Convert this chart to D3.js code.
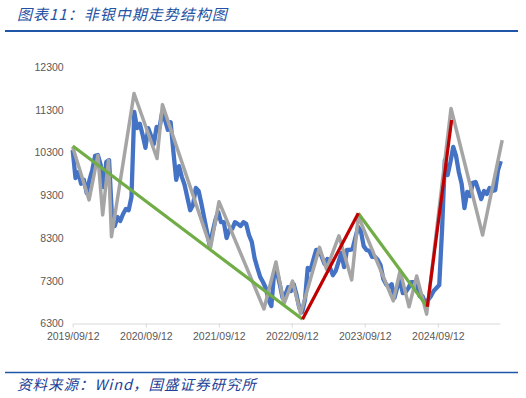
<!DOCTYPE html>
<html>
<head>
<meta charset="utf-8">
<script src="https://cdn.jsdelivr.net/npm/d3@7"></script>
<style>
  body { margin: 0; background: #fff; }
  svg { display: block; }
  .title, .source { font-family: "Noto Sans CJK SC", sans-serif; font-style: italic; }
  .axis text { font-family: "Liberation Sans", Arial, sans-serif; font-size: 10.5px; fill: #595959; }
</style>
</head>
<body>
<svg width="526" height="398"></svg>
<script>
// 非银指数, sampled every two weeks from 2019/09/12
const startDay = '2019-09-12'
const stepDays = 14
const indexValues = [
  10360, 9700, 9840, 9570, 9660, 9350, 9660, 9890, 10220, 10240,
  10010, 9490, 10080, 10120, 8840, 8580, 8790, 8700, 8860, 8980,
  8950, 9260, 11250, 10870, 10970, 10710, 10410, 10870, 10690, 10500,
  10900, 10870, 11250, 11060, 10830, 11010, 10310, 9660, 9980, 9730,
  9540, 9240, 8950, 9070, 9470, 9400, 9100, 8770, 8440, 8110,
  8440, 8720, 8910, 8670, 8670, 8300, 8490, 8510, 8670, 8630,
  8580, 8670, 8630, 8370, 8210, 7830, 7600, 7390, 7270, 7130,
  6850, 6710, 7500, 7500, 7220, 6900, 6970, 7150, 7060, 7220,
  6970, 6660, 6570, 6850, 7600, 7550, 7790, 8020, 8020, 7860,
  7690, 7810, 7600, 7430, 7530, 7740, 7950, 7620, 8020, 8020,
  8040, 8300, 8560, 8460, 8110, 8020, 8000, 7860, 7860, 7790,
  7670, 7340, 7220, 7150, 7220, 6900, 7150, 7290, 7010, 7040,
  7130, 7270, 7270, 7220, 6940, 6940, 6780, 6850, 6940, 7060,
  7130, 7200, 8490, 10120, 9770, 10080, 10430, 10220, 9840, 9570,
  9000, 9380, 9280, 9590, 9610, 9420, 9210, 9400, 9330, 9470,
  9400, 9420, 9890, 10100
]

// 走势结构 (swing highs / lows)
const swingDates = [
  '2019-09-12', '2019-12-03', '2020-01-16', '2020-02-09', '2020-03-09', '2020-03-24',
  '2020-07-15', '2020-11-07', '2020-12-04', '2021-08-02', '2021-09-13', '2022-04-26',
  '2022-06-25', '2022-08-04', '2022-09-16', '2022-10-26', '2023-01-29', '2023-03-05',
  '2023-05-06', '2023-07-09', '2023-08-11', '2024-02-02', '2024-03-07', '2024-04-21',
  '2024-05-29', '2024-07-18', '2024-11-17', '2025-04-24', '2025-07-31'
]
const swingValues = [
  10430, 9190, 10230, 8840, 10120, 8330,
  11680, 10160, 11420, 8080, 9150, 6640,
  7740, 6760, 7290, 6530, 8080, 7570,
  8350, 7320, 8810, 6830, 7530, 6690,
  7410, 6520, 11330, 8370, 10590
]

// 中期趋势
const downTrends = [
  [['2019-09-12', 10450], ['2022-11-05', 6400]],
  [['2023-08-11', 8880], ['2024-07-21', 6690]]
]
const upTrends = [
  [['2022-11-05', 6400], ['2023-08-11', 8880]],
  [['2024-07-21', 6690], ['2024-11-20', 11060]]
]

const yTicks = [6300, 7300, 8300, 9300, 10300, 11300, 12300]
const xTicks = ['2019/09/12', '2020/09/12', '2021/09/12', '2022/09/12', '2023/09/12', '2024/09/12']

const parseDay = d3.timeParse('%Y-%m-%d')
const parseTick = d3.timeParse('%Y/%m/%d')

const svg = d3.select('svg')

const x = d3.scaleTime()
  .domain([parseDay('2019-09-12'), parseDay('2025-07-20')])
  .range([72.7, 500])

const y = d3.scaleLinear()
  .domain([6300, 12300])
  .range([323.5, 67])

// header + footer
svg.append('text')
  .attr('class', 'title')
  .attr('x', 17)
  .attr('y', 20)
  .attr('font-size', 15)
  .attr('letter-spacing', 1)
  .attr('fill', '#2352a3')
  .text('图表11：非银中期走势结构图')

svg.append('line')
  .attr('x1', 5).attr('x2', 518)
  .attr('y1', 31).attr('y2', 31)
  .attr('stroke', '#1f56a8')
  .attr('stroke-width', 2.2)

svg.append('line')
  .attr('x1', 5).attr('x2', 518)
  .attr('y1', 372.5).attr('y2', 372.5)
  .attr('stroke', '#1f56a8')
  .attr('stroke-width', 1.6)

svg.append('text')
  .attr('class', 'source')
  .attr('x', 17)
  .attr('y', 390)
  .attr('font-size', 14.5)
  .attr('letter-spacing', 1)
  .attr('fill', '#1c4196')
  .text('资料来源：Wind，国盛证券研究所')

// axes
const xAxis = svg.append('g')
  .attr('class', 'axis')
  .attr('transform', `translate(0,${y(6300)})`)
  .call(d3.axisBottom(x)
    .tickValues(xTicks.map(parseTick))
    .tickFormat(d3.timeFormat('%Y/%m/%d'))
    .tickSize(4)
    .tickSizeOuter(0)
    .tickPadding(5))
xAxis.select('.domain').attr('stroke', '#d9d9d9')
xAxis.selectAll('.tick line').attr('stroke', '#d9d9d9')

const yAxis = svg.append('g')
  .attr('class', 'axis')
  .attr('transform', 'translate(72.7,0)')
  .call(d3.axisLeft(y)
    .tickValues(yTicks)
    .tickFormat(d3.format('d'))
    .tickSize(0)
    .tickPadding(9))
yAxis.select('.domain').remove()

// series
const indexData = indexValues.map((v, i) => ({
  date: d3.timeDay.offset(parseDay(startDay), i * stepDays),
  value: v
}))
const swingData = swingDates.map((d, i) => ({ date: parseDay(d), value: swingValues[i] }))

const line = d3.line()
  .x(d => x(d.date))
  .y(d => y(d.value))

svg.append('path')
  .datum(indexData)
  .attr('fill', 'none')
  .attr('stroke', '#4472c4')
  .attr('stroke-width', 4.3)
  .attr('stroke-linejoin', 'round')
  .attr('d', line)

svg.append('path')
  .datum(swingData)
  .attr('fill', 'none')
  .attr('stroke', '#a5a5a5')
  .attr('stroke-width', 3.5)
  .attr('stroke-linejoin', 'round')
  .attr('d', line)

function trend (segs, color) {
  svg.selectAll(null)
    .data(segs)
    .enter()
    .append('path')
    .attr('fill', 'none')
    .attr('stroke', color)
    .attr('stroke-width', 3.2)
    .attr('d', s => line(s.map(p => ({ date: parseDay(p[0]), value: p[1] }))))
}

trend(downTrends, '#70ad47')
trend(upTrends, '#c00000')
</script>
</body>
</html>
